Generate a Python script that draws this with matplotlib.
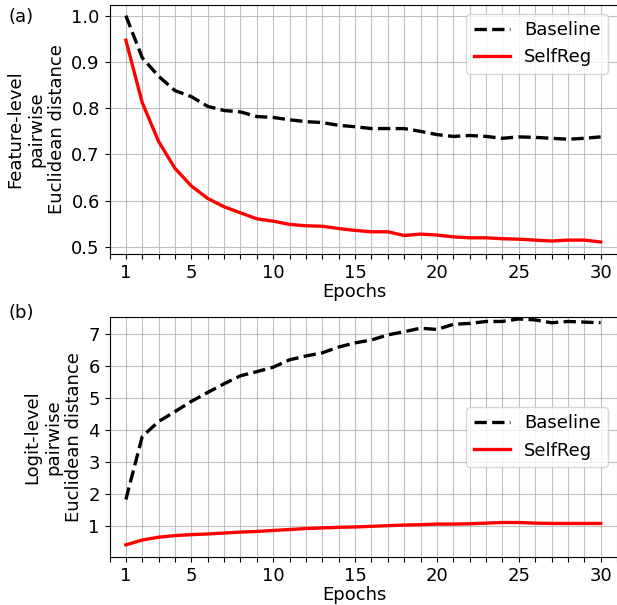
import matplotlib
matplotlib.use("Agg")
import matplotlib.pyplot as plt
import numpy as np

epochs = list(range(1, 31))

feat_baseline = [1.000, 0.909, 0.869, 0.838, 0.825, 0.804, 0.795, 0.792, 0.782, 0.780,
                 0.775, 0.771, 0.769, 0.763, 0.760, 0.756, 0.756, 0.756, 0.750, 0.743,
                 0.739, 0.741, 0.739, 0.735, 0.738, 0.737, 0.735, 0.733, 0.735, 0.738]
feat_selfreg = [0.947, 0.812, 0.728, 0.670, 0.632, 0.605, 0.587, 0.574, 0.561, 0.556,
                0.549, 0.546, 0.545, 0.540, 0.536, 0.533, 0.533, 0.525, 0.528, 0.526,
                0.522, 0.520, 0.520, 0.518, 0.517, 0.515, 0.513, 0.515, 0.515, 0.511]

logit_baseline = [1.83, 3.80, 4.27, 4.58, 4.90, 5.18, 5.45, 5.70, 5.83, 5.97,
                  6.20, 6.32, 6.42, 6.60, 6.73, 6.82, 6.98, 7.08, 7.19, 7.15,
                  7.31, 7.34, 7.40, 7.40, 7.48, 7.45, 7.36, 7.40, 7.38, 7.36]
logit_selfreg = [0.41, 0.56, 0.65, 0.70, 0.73, 0.75, 0.78, 0.81, 0.83, 0.86,
                 0.89, 0.92, 0.94, 0.96, 0.97, 0.99, 1.01, 1.03, 1.04, 1.06,
                 1.06, 1.07, 1.09, 1.11, 1.11, 1.09, 1.08, 1.08, 1.08, 1.08]

xtick_labels = {1: "1", 5: "5", 10: "10", 15: "15", 20: "20", 25: "25", 30: "30"}

W, H = 617, 605
fig = plt.figure(figsize=(W / 100, H / 100), dpi=100)
fs = 13
left_px = 109.5

def make_axes(top_px, bottom_px):
    left = left_px / W
    return fig.add_axes([left, 1 - bottom_px / H, 1.0 - left, (bottom_px - top_px) / H])

ax1 = make_axes(5, 254)
ax2 = make_axes(317, 557)

def style(ax, ylabel):
    ticks = list(range(0, 32))
    ax.set_xticks(ticks)
    ax.set_xticklabels([xtick_labels.get(t, "") for t in ticks])
    ax.set_xlim(0, 31)
    ax.grid(True, color="#b0b0b0", linewidth=0.8, alpha=0.8)
    ax.set_axisbelow(True)
    ax.tick_params(labelsize=fs)
    ax.set_xlabel("Epochs", fontsize=fs, labelpad=1)
    ax.xaxis.label.set_x((354.5 - left_px) / (W - left_px))
    ax.set_ylabel(ylabel, fontsize=fs, multialignment="center")
    ax.spines["right"].set_visible(False)

ax1.plot(epochs, feat_baseline, "k--", lw=2.4, label="Baseline")
ax1.plot(epochs, feat_selfreg, color="red", lw=2.4, label="SelfReg")
style(ax1, "Feature-level\npairwise\nEuclidean distance")
ax1.set_yticks([0.5, 0.6, 0.7, 0.8, 0.9, 1.0])
ax1.set_ylim(0.485, 1.023)
ax1.legend(loc="upper right", fontsize=fs)

ax2.plot(epochs, logit_baseline, "k--", lw=2.4, label="Baseline")
ax2.plot(epochs, logit_selfreg, color="red", lw=2.4, label="SelfReg")
style(ax2, "Logit-level\npairwise\nEuclidean distance")
ax2.set_yticks([1, 2, 3, 4, 5, 6, 7])
ax2.set_ylim(0.03, 7.54)
ax2.legend(loc="center right", fontsize=fs)

fig.text(8 / W, 1 - 8 / H, "(a)", fontsize=fs, va="top", ha="left")
fig.text(8 / W, 1 - 304 / H, "(b)", fontsize=fs, va="top", ha="left")

fig.savefig("out.png", dpi=100)
